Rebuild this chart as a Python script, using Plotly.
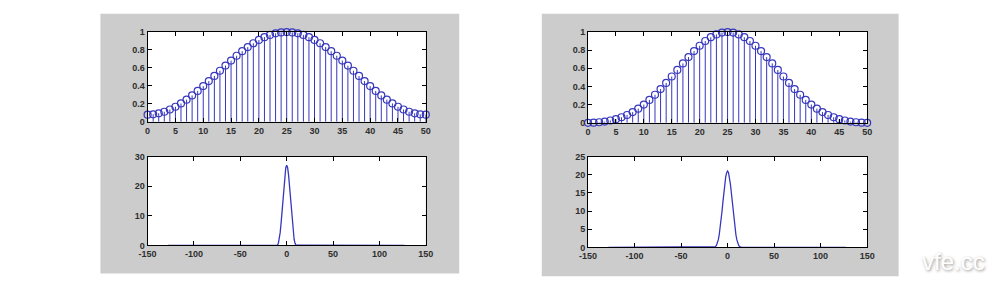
import plotly.graph_objects as go

# ---- data ----
n_idx = list(range(51))
hamming_half = [0.080, 0.084, 0.095, 0.112, 0.137, 0.168, 0.205, 0.247, 0.294, 0.344,
                0.398, 0.454, 0.511, 0.569, 0.626, 0.682, 0.736, 0.787, 0.833, 0.875,
                0.912, 0.943, 0.968, 0.986, 0.996, 1.000]
hamming_vals = hamming_half + hamming_half[-2::-1]

blackman_half = [0.000, 0.001, 0.006, 0.013, 0.025, 0.040, 0.061, 0.086, 0.118, 0.156,
                 0.201, 0.252, 0.309, 0.372, 0.439, 0.510, 0.582, 0.654, 0.724, 0.790,
                 0.849, 0.901, 0.943, 0.974, 0.994, 1.000]
blackman_vals = blackman_half + blackman_half[-2::-1]

ham_k = [-128, -11, -10, -9, -8, -7, -6, -5, -4, -3, -2, -1, 0,
         1, 2, 3, 4, 5, 6, 7, 8, 9, 10, 11, 127]
ham_mag = [0.0, 0.05, 0.02, 0.70, 2.09, 4.40, 7.71, 11.53, 15.92, 20.20, 23.81, 26.23, 27.08,
           26.23, 23.81, 20.20, 15.92, 11.53, 7.71, 4.40, 2.09, 0.70, 0.02, 0.05, 0.0]

blk_k = [-128, -15, -14, -13, -12, -11, -10, -9, -8, -7, -6, -5, -4, -3, -2, -1, 0,
         1, 2, 3, 4, 5, 6, 7, 8, 9, 10, 11, 12, 13, 14, 15, 127]
blk_mag = [0.0, 0.0, 0.04, 0.18, 0.50, 1.11, 2.05, 3.40, 5.20, 7.39, 9.88, 12.52, 15.17, 17.51, 19.41, 20.58, 21.00,
           20.58, 19.41, 17.51, 15.17, 12.52, 9.88, 7.39, 5.20, 3.40, 2.05, 1.11, 0.50, 0.18, 0.04, 0.0, 0.0]

top_xticks = list(range(0, 51, 5))
top_yticks = [0, 0.2, 0.4, 0.6, 0.8, 1]
top_yticklabels = ["0", "0.2", "0.4", "0.6", "0.8", "1"]
bot_xticks = [-150, -100, -50, 0, 50, 100, 150]
bot_xticklabels = ["-150", "-100", "-50", "0", "50", "100", "150"]
left_bot_yticks = [0, 10, 20, 30]
right_bot_yticks = [0, 5, 10, 15, 20, 25]

BLUE = "rgb(55,55,190)"
W, H = 1000, 290

def px(x):
    return x / W

def py(y):
    return 1 - y / H

fig = go.Figure()

def stems(vals, xa, ya):
    xs, ys = [], []
    for i, v in zip(n_idx, vals):
        xs += [i, i, None]
        ys += [0, v, None]
    fig.add_trace(go.Scatter(x=xs, y=ys, mode="lines", line=dict(color=BLUE, width=1),
                             xaxis=xa, yaxis=ya, showlegend=False, hoverinfo="skip"))
    fig.add_trace(go.Scatter(x=n_idx, y=vals, mode="markers", cliponaxis=False,
                             marker=dict(symbol="circle-open", size=7, color=BLUE, line=dict(width=1.2, color=BLUE)),
                             xaxis=xa, yaxis=ya, showlegend=False))

stems(hamming_vals, "x", "y")
fig.add_trace(go.Scatter(x=ham_k, y=ham_mag, mode="lines", line=dict(color=BLUE, width=1.3),
                         xaxis="x2", yaxis="y2", showlegend=False, cliponaxis=False))
stems(blackman_vals, "x3", "y3")
fig.add_trace(go.Scatter(x=blk_k, y=blk_mag, mode="lines", line=dict(color=BLUE, width=1.3),
                         xaxis="x4", yaxis="y4", showlegend=False, cliponaxis=False))

font = dict(family="Liberation Sans, Arial", size=9, color="#2e2e2e", weight="bold")
common = dict(showgrid=False, zeroline=False, showline=True, linecolor="black", linewidth=1,
              mirror="ticks", ticks="inside", ticklen=4, tickcolor="black", tickfont=font,
              fixedrange=True)

# panel geometry (pixels)
LX = (141, 424)
RX = (589, 873)
LT = (28, 121)
LB = (157, 249)
RT = (28, 122)
RB = (157, 251)

def rect(x0, x1, y0, y1, color):
    return dict(type="rect", xref="paper", yref="paper", x0=px(x0), x1=px(x1), y0=py(y1), y1=py(y0),
                fillcolor=color, line=dict(width=0), layer="below")

GRAY = "rgb(204,204,204)"
shapes = [
    rect(93, 458, 9, 278, GRAY),
    rect(542, 905, 9, 281, GRAY),
    rect(LX[0], LX[1], LT[0], LT[1], "white"),
    rect(LX[0], LX[1], LB[0], LB[1], "white"),
    rect(RX[0], RX[1], RT[0], RT[1], "white"),
    rect(RX[0], RX[1], RB[0], RB[1], "white"),
]

layout = dict(
    width=W, height=H, margin=dict(l=0, r=0, t=0, b=0),
    paper_bgcolor="white", plot_bgcolor="white",
    xaxis=dict(domain=[px(LX[0]), px(LX[1])], range=[0, 50], tickvals=top_xticks, anchor="y", **common),
    yaxis=dict(domain=[py(LT[1]), py(LT[0])], range=[0, 1], tickvals=top_yticks, ticktext=top_yticklabels, anchor="x", **common),
    xaxis2=dict(domain=[px(LX[0]), px(LX[1])], range=[-150, 150], tickvals=bot_xticks, ticktext=bot_xticklabels, anchor="y2", **common),
    yaxis2=dict(domain=[py(LB[1]), py(LB[0])], range=[0, 30], tickvals=left_bot_yticks, anchor="x2", **common),
    xaxis3=dict(domain=[px(RX[0]), px(RX[1])], range=[0, 50], tickvals=top_xticks, anchor="y3", **common),
    yaxis3=dict(domain=[py(RT[1]), py(RT[0])], range=[0, 1], tickvals=top_yticks, ticktext=top_yticklabels, anchor="x3", **common),
    xaxis4=dict(domain=[px(RX[0]), px(RX[1])], range=[-150, 150], tickvals=bot_xticks, ticktext=bot_xticklabels, anchor="y4", **common),
    yaxis4=dict(domain=[py(RB[1]), py(RB[0])], range=[0, 25], tickvals=right_bot_yticks, anchor="x4", **common),
    shapes=shapes,
    annotations=[
        dict(text="vfe.cc", xref="paper", yref="paper", x=px(995), y=py(266), xanchor="right", yanchor="middle",
             showarrow=False, font=dict(family="Liberation Sans, Arial", size=24, color="white",
                                        shadow="1px 1px 3px rgba(120,120,120,0.8)")),
    ],
)
fig.update_layout(**layout)
fig.write_html("out.html")
